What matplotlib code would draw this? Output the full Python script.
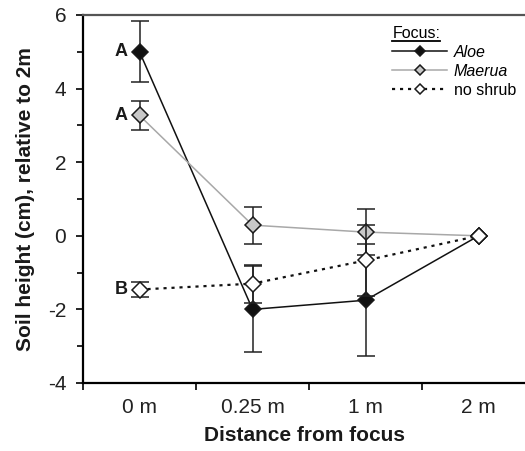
import numpy as np
import matplotlib
matplotlib.use('agg')
import matplotlib.pyplot as plt
from matplotlib.lines import Line2D

plt.rcParams['font.family'] = ['Liberation Sans', 'DejaVu Sans']
plt.rcParams['axes.unicode_minus'] = False

distances = ['0 m', '0.25 m', '1 m', '2 m']
aloe = [5.0, -2.0, -1.75, 0.0]
aloe_err = [0.83, 1.17, 1.52, 0.0]
maerua = [3.27, 0.29, 0.10, 0.0]
maerua_err = [0.40, 0.50, 0.62, 0.0]
noshrub = [-1.46, -1.30, -0.67, 0.0]
noshrub_err = [0.20, 0.52, 0.97, 0.0]
letters = ['A', 'A', 'B']
letter_vals = [aloe[0], maerua[0], noshrub[0]]

x = np.arange(len(distances))

fig = plt.figure(figsize=(5.25, 4.51), dpi=100)
ax = fig.add_axes([83/525, 68/451, 442/525, 368/451])

def series(vals, errs, color, face, ls, lw, label, z):
  v = np.array(vals)
  e = np.array(errs)
  m = e > 0
  ax.errorbar(x[m], v[m], yerr=e[m], fmt='none', ecolor='#222222',
              elinewidth=1.1, capsize=6.5, capthick=1.1, zorder=z)
  ax.plot(x, v, color=color, ls=ls, lw=lw, marker='D', ms=8.5,
          mfc=face, mec='#1a1a1a', mew=1.1, label=label, zorder=z+0.5)

series(aloe, aloe_err, '#111111', '#111111', '-', 1.1, 'Aloe', 2)
series(maerua, maerua_err, '#a8a8a8', '#c8c8c8', '-', 1.1, 'Maerua', 3)
series(noshrub, noshrub_err, '#111111', 'white', (0, (1.4, 2.2)), 1.6,
       'no shrub', 4)

for lt, v in zip(letters, letter_vals):
  ax.annotate(lt, (0, v), xytext=(-13, 0), textcoords='offset points',
              ha='center', va='center', fontsize=13, fontweight='bold',
              color='#1a1a1a')

ax.set_xlim(-0.5, 3.41)
ax.set_ylim(-4, 6)
ax.set_yticks(np.arange(-4, 7, 2))
ax.set_yticks(np.arange(-3, 6, 2), minor=True)
ax.set_xticks(np.arange(-0.5, 3.0, 1))
ax.set_xticklabels([])
ax.set_xticks(x, minor=True)
ax.set_xticklabels(distances, minor=True)
ax.tick_params(axis='x', which='minor', length=0, pad=11, labelsize=15,
               labelcolor='#222222')
ax.tick_params(axis='x', which='major', direction='out', length=5, width=1.2)
ax.tick_params(axis='y', which='major', direction='out', length=5, width=1.2,
               labelsize=15, pad=7, labelcolor='#222222')
ax.tick_params(axis='y', which='minor', direction='out', length=4, width=1.2)

ax.spines['right'].set_visible(False)
ax.spines['top'].set_color('#555555')
ax.spines['top'].set_linewidth(1.6)
ax.spines['left'].set_linewidth(1.6)
ax.spines['bottom'].set_linewidth(1.6)

ax.set_ylabel('Soil height (cm), relative to 2m', fontsize=15,
              fontweight='bold', labelpad=9, color='#1a1a1a')
ax.set_xlabel('Distance from focus', fontsize=15, fontweight='bold',
              labelpad=6, color='#1a1a1a')

leg = ax.legend(loc='upper left', bbox_to_anchor=(0.70, 0.97), frameon=False,
                title='Focus:', alignment='left', fontsize=11.5,
                title_fontsize=11.5, handlelength=3.4, markerscale=0.65,
                labelspacing=0.25, handletextpad=0.45, borderaxespad=0,
                borderpad=0)
for t in leg.get_texts()[:2]:
  t.set_style('italic')

fig.canvas.draw()
bb = leg.get_title().get_window_extent()
fig.add_artist(Line2D([bb.x0 / 525, bb.x1 / 525],
                      [(bb.y0 + 0.5) / 451, (bb.y0 + 0.5) / 451],
                      color='black', lw=1.3))

fig.savefig('out.png', dpi=100)
